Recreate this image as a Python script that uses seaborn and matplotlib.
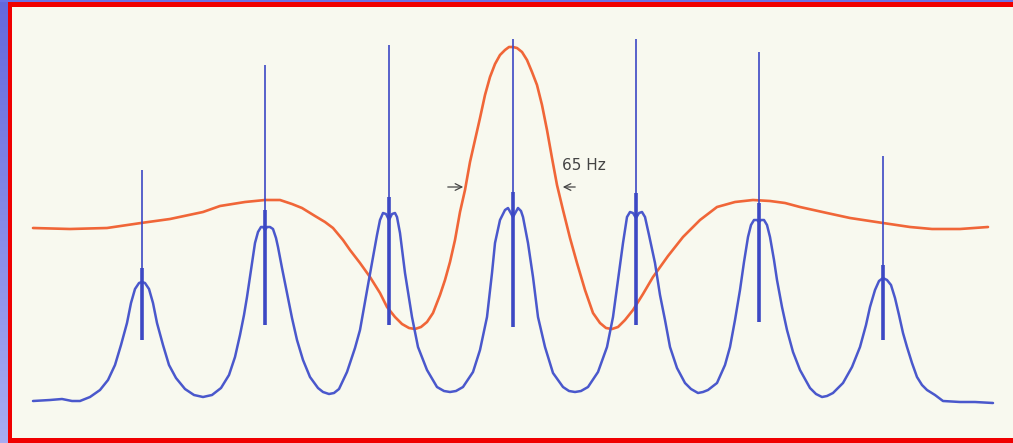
import numpy as np
import pandas as pd
import matplotlib
matplotlib.use("Agg")
import matplotlib.pyplot as plt
import seaborn as sns

blue_x = [33, 50, 62, 72, 80, 90, 100, 108, 115, 121, 127, 131, 135, 139, 142, 145, 149,
          153, 157, 163, 169, 176, 185, 194, 203,
          212, 221, 229, 235, 240, 244, 247, 251, 255, 258, 261, 263, 265, 267, 270, 273,
          276, 278, 282, 287, 292, 297, 303, 310, 318, 323, 329, 334,
          339, 347, 355, 360, 363, 368, 373, 377, 380, 383, 386, 389, 392, 395, 397, 400,
          405, 412, 418, 427, 437, 444, 450, 456,
          463, 473, 480, 487, 492, 495, 500, 505, 508, 513, 518, 521, 523, 528, 533, 538,
          545, 553, 563, 569, 575, 581,
          588, 598, 607, 613, 618, 623, 627, 630, 633, 636, 639, 642, 645, 649, 655, 660,
          665, 670, 677, 685, 691, 698, 703,
          708, 717, 725, 730, 735, 740, 744, 748, 751, 754, 757, 759, 761, 764, 767, 770,
          774, 777, 782, 787, 793, 800, 810, 816, 822, 827,
          833, 843, 852, 860, 866, 870, 875, 879, 883, 887, 891, 895, 899, 903, 907, 912,
          917, 922, 927, 935, 943, 960, 975, 993]
blue_row = [401, 400, 399, 401, 401, 397, 390, 380, 365, 345, 323, 303, 289, 283, 282, 283, 289,
            303, 323, 345, 365, 378, 389, 395, 397,
            395, 388, 375, 357, 335, 315, 297, 270, 243, 232, 227, 227, 230, 227, 227, 229,
            238, 247, 268, 293, 318, 340, 360, 377, 388, 392, 394, 393,
            389, 372, 348, 330, 313, 285, 257, 235, 220, 213, 214, 220, 214, 213, 217, 233,
            273, 317, 347, 370, 387, 391, 392, 391,
            387, 372, 350, 317, 273, 243, 220, 210, 208, 217, 208, 211, 217, 243, 277, 317,
            347, 373, 387, 391, 392, 391,
            387, 372, 347, 317, 280, 243, 217, 212, 213, 218, 213, 212, 217, 235, 263, 295,
            320, 347, 368, 383, 389, 393, 392,
            390, 383, 365, 347, 320, 290, 262, 237, 225, 220, 220, 222, 220, 220, 225, 237,
            260, 280, 307, 330, 352, 370, 388, 394, 397, 396,
            393, 383, 367, 347, 325, 307, 290, 281, 278, 280, 285, 298, 315, 333, 347, 363,
            377, 385, 390, 395, 401, 402, 402, 403]

orange_x = [33, 70, 107, 141, 170, 203, 220, 245, 265, 280, 292, 302, 315, 325, 333, 343,
            350, 360, 370, 380, 387, 395, 402, 409, 415, 421, 427, 433, 440, 445, 450, 455,
            460, 465, 470, 475, 480, 485, 490, 495, 500, 505, 509, 513, 517, 522, 527, 532,
            537, 542, 547, 552, 557, 563, 570, 577, 585, 593, 600, 606, 612, 618, 625, 633,
            643, 653, 668, 683, 700, 717, 735, 753, 770, 785, 800, 827, 850, 883, 910, 932,
            960, 988]
orange_row = [228, 229, 228, 223, 219, 212, 206, 202, 200, 200, 204, 208, 216, 222, 228, 240,
              250, 263, 277, 293, 307, 317, 324, 328, 329, 327, 322, 313, 295, 280, 262, 240,
              212, 190, 162, 140, 118, 95, 77, 64, 55, 50, 47, 47, 48, 52, 60, 72,
              85, 105, 130, 158, 185, 210, 238, 263, 290, 313, 323, 328, 329, 327, 320, 310,
              294, 277, 256, 237, 220, 207, 202, 200, 201, 203, 207, 213, 218, 223, 227, 229,
              229, 227]

# comb lines: position, top row, row where the thick part starts, bottom row
spike_x = [142, 265, 389, 513, 636, 759, 883]
spike_top = [170, 65, 45, 39, 39, 52, 156]
spike_thick = [268, 210, 197, 192, 193, 203, 265]
spike_bottom = [340, 325, 325, 327, 325, 322, 340]

label = "65 Hz"
label_pos = (562, 165)
arrow_row = 187
arrow_left = (445, 466)
arrow_right = (578, 560)

W, H = 1013, 443


def h(row):
    return H - np.asarray(row, dtype=float)


sns.set_theme(style="white")

fig = plt.figure(figsize=(W / 100, H / 100), dpi=100)
fig.patch.set_facecolor("#f00000")

# bluish strip along the left / top edge of the scan
strip = fig.add_axes([0, 0, 7 / W, 1])
grad = np.linspace(0, 1, 256).reshape(-1, 1)
strip.imshow(grad, aspect="auto", extent=[0, 1, 0, 1],
             cmap=matplotlib.colors.LinearSegmentedColormap.from_list("s", ["#6468dc", "#a8acf2"]))
strip.axis("off")
top = fig.add_axes([0, 1 - 1.5 / H, 1, 1.5 / H])
top.set_facecolor("#6a72e6")
top.set_xticks([]); top.set_yticks([])
for s in top.spines.values():
    s.set_visible(False)

ax = fig.add_axes([12 / W, 5 / H, (W - 12) / W, (436 - 5) / H])
ax.set_facecolor("#f8f9ef")
ax.set_xlim(12, W)
ax.set_ylim(5, 436)

df_blue = pd.DataFrame({"f": blue_x, "v": h(blue_row)})
df_orange = pd.DataFrame({"f": orange_x, "v": h(orange_row)})

sns.lineplot(data=df_orange, x="f", y="v", ax=ax, color="#f06638", lw=1.9,
             estimator=None, sort=False)
sns.lineplot(data=df_blue, x="f", y="v", ax=ax, color="#4a58cc", lw=1.8,
             estimator=None, sort=False)
ax.vlines(spike_x, h(spike_bottom), h(spike_top), color="#3c48c4", lw=1.2)
ax.vlines(spike_x, h(spike_bottom), h(spike_thick), color="#3c48c4", lw=2.6)

ax.text(label_pos[0], H - label_pos[1], label, fontsize=11, color="#444444",
        va="center", ha="left")
ax.annotate("", xy=(arrow_left[1], H - arrow_row), xytext=(arrow_left[0], H - arrow_row),
            arrowprops=dict(arrowstyle="->", color="#444444", lw=0.9))
ax.annotate("", xy=(arrow_right[1], H - arrow_row), xytext=(arrow_right[0], H - arrow_row),
            arrowprops=dict(arrowstyle="->", color="#444444", lw=0.9))

ax.set_xticks([]); ax.set_yticks([])
ax.set_xlabel(""); ax.set_ylabel("")
for s in ax.spines.values():
    s.set_visible(False)

fig.savefig("out.png", dpi=100, facecolor=fig.get_facecolor())
